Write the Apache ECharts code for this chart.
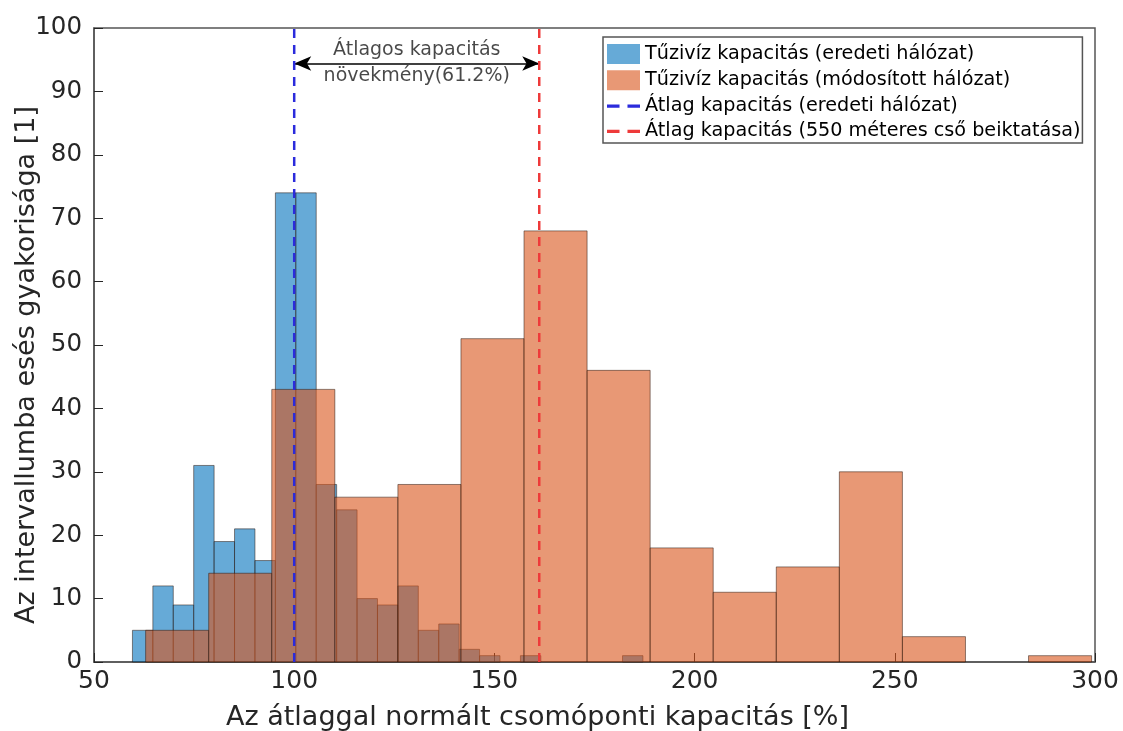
<!DOCTYPE html>
<html>
<head>
<meta charset="utf-8">
<title>Tűzivíz kapacitás</title>
<script src="https://cdn.jsdelivr.net/npm/echarts@6/dist/echarts.min.js"></script>
<style>
  html, body { margin: 0; padding: 0; background: #fff; }
  #chart { width: 1123px; height: 731px; }
</style>
</head>
<body>
<div id="chart"></div>
<script>
// histogram bins (start of first bin, bin width, counts)
const blueStart = 59.6
const blueBinWidth = 5.1
const blueCounts = [5, 12, 9, 31, 19, 21, 16, 74, 74, 28, 24, 10, 9, 12, 5, 6, 2, 1, 0, 1, 0, 0, 0, 0, 1]

const orangeStart = 62.9
const orangeBinWidth = 15.75
const orangeCounts = [5, 14, 43, 26, 28, 51, 68, 46, 18, 11, 15, 30, 4, 0, 1]

// mean lines and the arrow between them
const meanOriginal = 100
const meanModified = 161.2
const arrowLevel = 94.4

const xRange = [50, 300]
const yRange = [0, 100]

const seriesNames = [
  'Tűzivíz kapacitás (eredeti hálózat)',
  'Tűzivíz kapacitás (módosított hálózat)',
  'Átlag kapacitás (eredeti hálózat)',
  'Átlag kapacitás (550 méteres cső beiktatása)'
]
const annotationLines = ['Átlagos kapacitás', 'növekmény(61.2%)']
const xTitle = 'Az átlaggal normált csomóponti kapacitás [%]'
const yTitle = 'Az intervallumba esés gyakorisága [1]'

const blueFill = 'rgba(0,114,189,0.6)'
const orangeFill = 'rgba(217,83,25,0.6)'
const blueLine = '#2b2bdc'
const redLine = '#ee3a3a'
const axisColor = '#262626'
const frameColor = '#555'
const font = 'DejaVu Sans'
const dashIcon = 'path://M0,0 h11 v3 h-11 Z M18,0 h11 v3 h-11 Z'

function toBins (start, width, counts) {
  return counts
    .map((c, i) => [start + i * width, start + (i + 1) * width, c])
    .filter((b) => b[2] > 0)
}

function histRenderer (fill) {
  return function (params, api) {
    const topLeft = api.coord([api.value(0), api.value(2)])
    const bottomRight = api.coord([api.value(1), 0])
    return {
      type: 'rect',
      shape: {
        x: topLeft[0],
        y: topLeft[1],
        width: bottomRight[0] - topLeft[0],
        height: bottomRight[1] - topLeft[1]
      },
      style: { fill: fill, stroke: 'rgba(40,20,10,0.5)', lineWidth: 1 }
    }
  }
}

const chart = echarts.init(document.getElementById('chart'), null, { renderer: 'canvas' })

chart.setOption({
  animation: false,
  grid: {
    left: 94,
    right: 28,
    top: 28,
    bottom: 69,
    outerBoundsMode: 'none',
    show: true,
    borderColor: frameColor,
    borderWidth: 1.5
  },
  legend: {
    orient: 'vertical',
    left: 603,
    top: 37,
    itemWidth: 33,
    itemHeight: 20,
    itemGap: 6.3,
    padding: [7, 2, 2, 4],
    backgroundColor: '#fff',
    borderColor: frameColor,
    borderWidth: 1.5,
    selectedMode: false,
    textStyle: { fontFamily: font, fontSize: 19.2, color: '#000' },
    data: [
      { name: seriesNames[0], icon: 'rect' },
      { name: seriesNames[1], icon: 'rect' },
      { name: seriesNames[2], icon: dashIcon, itemStyle: { color: blueLine } },
      { name: seriesNames[3], icon: dashIcon, itemStyle: { color: redLine } }
    ]
  },
  xAxis: {
    type: 'value',
    min: xRange[0],
    max: xRange[1],
    interval: 50,
    name: xTitle,
    nameLocation: 'middle',
    nameGap: 42,
    nameMoveOverlap: false,
    nameTextStyle: { fontFamily: font, fontSize: 27, color: axisColor, padding: [0, 114, 0, 0] },
    axisLine: { lineStyle: { color: frameColor, width: 1.5 } },
    axisTick: { inside: true, length: 9, lineStyle: { color: axisColor } },
    axisLabel: { fontFamily: font, fontSize: 25, color: axisColor, margin: 7 },
    splitLine: { show: false }
  },
  yAxis: {
    type: 'value',
    min: yRange[0],
    max: yRange[1],
    interval: 10,
    name: yTitle,
    nameLocation: 'middle',
    nameGap: 54,
    nameMoveOverlap: false,
    nameTextStyle: { fontFamily: font, fontSize: 27, color: axisColor, padding: [0, 40, 0, 0] },
    axisLine: { show: true, lineStyle: { color: frameColor, width: 1.5 } },
    axisTick: { show: true, inside: true, length: 9, lineStyle: { color: axisColor } },
    axisLabel: { fontFamily: font, fontSize: 24.5, color: axisColor, margin: 12 },
    splitLine: { show: false }
  },
  series: [
    {
      name: seriesNames[0],
      type: 'custom',
      itemStyle: { color: blueFill },
      encode: { x: [0, 1], y: 2 },
      data: toBins(blueStart, blueBinWidth, blueCounts),
      renderItem: histRenderer(blueFill),
      z: 2
    },
    {
      name: seriesNames[1],
      type: 'custom',
      itemStyle: { color: orangeFill },
      encode: { x: [0, 1], y: 2 },
      data: toBins(orangeStart, orangeBinWidth, orangeCounts),
      renderItem: histRenderer(orangeFill),
      z: 3
    },
    {
      name: seriesNames[2],
      type: 'line',
      color: blueLine,
      symbol: 'none',
      data: [[meanOriginal, yRange[0]], [meanOriginal, yRange[1]]],
      lineStyle: { color: blueLine, width: 2.5, type: [9, 7] },
      z: 5
    },
    {
      name: seriesNames[3],
      type: 'line',
      color: redLine,
      symbol: 'none',
      data: [[meanModified, yRange[0]], [meanModified, yRange[1]]],
      lineStyle: { color: redLine, width: 2.5, type: [9, 7] },
      z: 5
    },
    {
      type: 'scatter',
      silent: true,
      symbolSize: 1,
      itemStyle: { color: 'rgba(0,0,0,0)' },
      data: [[(meanOriginal + meanModified) / 2, arrowLevel]],
      label: {
        show: true,
        position: 'inside',
        formatter: annotationLines.join('\n'),
        fontFamily: font,
        fontSize: 19,
        lineHeight: 26,
        color: '#1a1a1a'
      },
      markLine: {
        silent: true,
        symbol: ['arrow', 'arrow'],
        symbolSize: [11, 17],
        label: { show: false },
        lineStyle: { color: '#000', width: 1.5, type: 'solid' },
        data: [[{ coord: [meanOriginal, arrowLevel] }, { coord: [meanModified, arrowLevel] }]]
      },
      z: 6
    }
  ]
})
</script>
</body>
</html>
